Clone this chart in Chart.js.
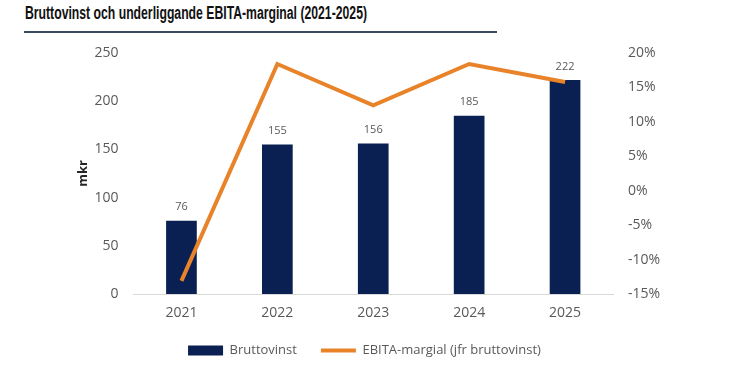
<!DOCTYPE html>
<html>
<head>
<meta charset="utf-8">
<script src="https://cdn.jsdelivr.net/npm/chart.js@4"></script>
<style>
  html, body { margin: 0; padding: 0; background: #fff; }
  body { width: 732px; height: 377px; position: relative; overflow: hidden; }
  #title {
    position: absolute; left: 24px; top: 3px; width: 473px; height: 28px;
    border-bottom: 2px solid #3b4a5c;
    font-family: "Liberation Sans", Arial, sans-serif; font-weight: bold;
    font-size: 18px; color: #111; white-space: nowrap;
  }
  #title span { display: inline-block; transform-origin: left center; margin-left: 1px; }
  #wrap { position: absolute; left: 0; top: 0; width: 732px; height: 377px; }
</style>
</head>
<body>
<div id="title"><span id="titleText">Bruttovinst och underliggande EBITA-marginal (2021-2025)</span></div>
<div id="wrap"><canvas id="chart"></canvas></div>
<script>
// Data
const years = ['2021', '2022', '2023', '2024', '2025'];
const bruttovinst = [76, 155, 156, 185, 222];
const ebitaMarginal = [-13.1, 18.4, 12.4, 18.4, 15.8];
const leftTicks = [0, 50, 100, 150, 200, 250];
const rightTicks = [-15, -10, -5, 0, 5, 10, 15, 20];

const navy = '#0a1f52';
const orange = '#e8832a';
const textGray = '#595959';

// squeeze the title to the width it has in the picture
const titleEl = document.getElementById('titleText');
const titleW = titleEl.getBoundingClientRect().width;
titleEl.style.transform = 'scaleX(' + (342 / titleW) + ')';

// value labels above bars
const barLabels = {
    id: 'barLabels',
    afterDatasetsDraw(chart) {
        const ctx = chart.ctx;
        const meta = chart.getDatasetMeta(1);
        ctx.save();
        ctx.font = '11px "Open Sans", sans-serif';
        ctx.fillStyle = textGray;
        ctx.textAlign = 'center';
        ctx.textBaseline = 'bottom';
        meta.data.forEach(function (bar, i) {
            ctx.fillText(String(bruttovinst[i]), bar.x, bar.y - 8);
        });
        ctx.restore();
    }
};

new Chart(document.getElementById('chart'), {
    data: {
        labels: years,
        datasets: [
            {
                type: 'line',
                label: 'EBITA-margial (jfr bruttovinst)',
                data: ebitaMarginal,
                yAxisID: 'y1',
                borderColor: orange,
                backgroundColor: orange,
                borderWidth: 4,
                pointRadius: 0,
                tension: 0,
                order: 0
            },
            {
                type: 'bar',
                label: 'Bruttovinst',
                data: bruttovinst,
                yAxisID: 'y',
                backgroundColor: navy,
                borderWidth: 0,
                barPercentage: 0.32,
                categoryPercentage: 1,
                order: 1
            }
        ]
    },
    options: {
        responsive: true,
        maintainAspectRatio: false,
        animation: false,
        layout: { padding: { left: 46, right: 49, top: 53, bottom: 10 } },
        plugins: {
            title: { display: false },
            tooltip: { enabled: false },
            legend: {
                position: 'bottom',
                reverse: true,
                labels: {
                    font: { family: '"Open Sans", sans-serif', size: 13 },
                    color: textGray,
                    usePointStyle: true,
                    pointStyleWidth: 35,
                    boxHeight: 10,
                    padding: 24,
                    generateLabels: function (chart) {
                        const items = Chart.defaults.plugins.legend.labels.generateLabels(chart);
                        items.forEach(function (it) {
                            if (it.datasetIndex === 1) {
                                it.pointStyle = 'rect';
                                it.fillStyle = navy;
                                it.lineWidth = 0;
                            } else {
                                it.pointStyle = 'line';
                                it.strokeStyle = orange;
                                it.lineWidth = 4;
                            }
                        });
                        return items;
                    }
                }
            }
        },
        scales: {
            x: {
                grid: { display: false, drawTicks: false },
                border: { color: '#d9d9d9', width: 1 },
                ticks: {
                    color: textGray,
                    font: { family: '"Open Sans", sans-serif', size: 14 },
                    padding: 11
                },
                afterFit: function (scale) { scale.height = 26; }
            },
            y: {
                position: 'left',
                min: 0,
                max: 250,
                afterBuildTicks: function (scale) {
                    scale.ticks = leftTicks.map(function (v) { return { value: v }; });
                },
                grid: { display: false, drawTicks: false },
                border: { display: false },
                ticks: {
                    color: textGray,
                    font: { family: '"Open Sans", sans-serif', size: 14 },
                    padding: 15
                },
                title: {
                    display: true,
                    text: 'mkr',
                    color: '#262626',
                    font: { family: '"Open Sans", sans-serif', size: 13, weight: 'bold' },
                    padding: { top: 29, bottom: 0 }
                },
                afterFit: function (scale) { scale.width = 87.5; }
            },
            y1: {
                position: 'right',
                min: -15,
                max: 20,
                afterBuildTicks: function (scale) {
                    scale.ticks = rightTicks.map(function (v) { return { value: v }; });
                },
                grid: { display: false, drawTicks: false },
                border: { display: false },
                ticks: {
                    color: textGray,
                    font: { family: '"Open Sans", sans-serif', size: 14 },
                    padding: 15,
                    callback: function (v) { return v + '%'; }
                },
                afterFit: function (scale) { scale.width = 70; }
            }
        }
    },
    plugins: [barLabels]
});
</script>
</body>
</html>
